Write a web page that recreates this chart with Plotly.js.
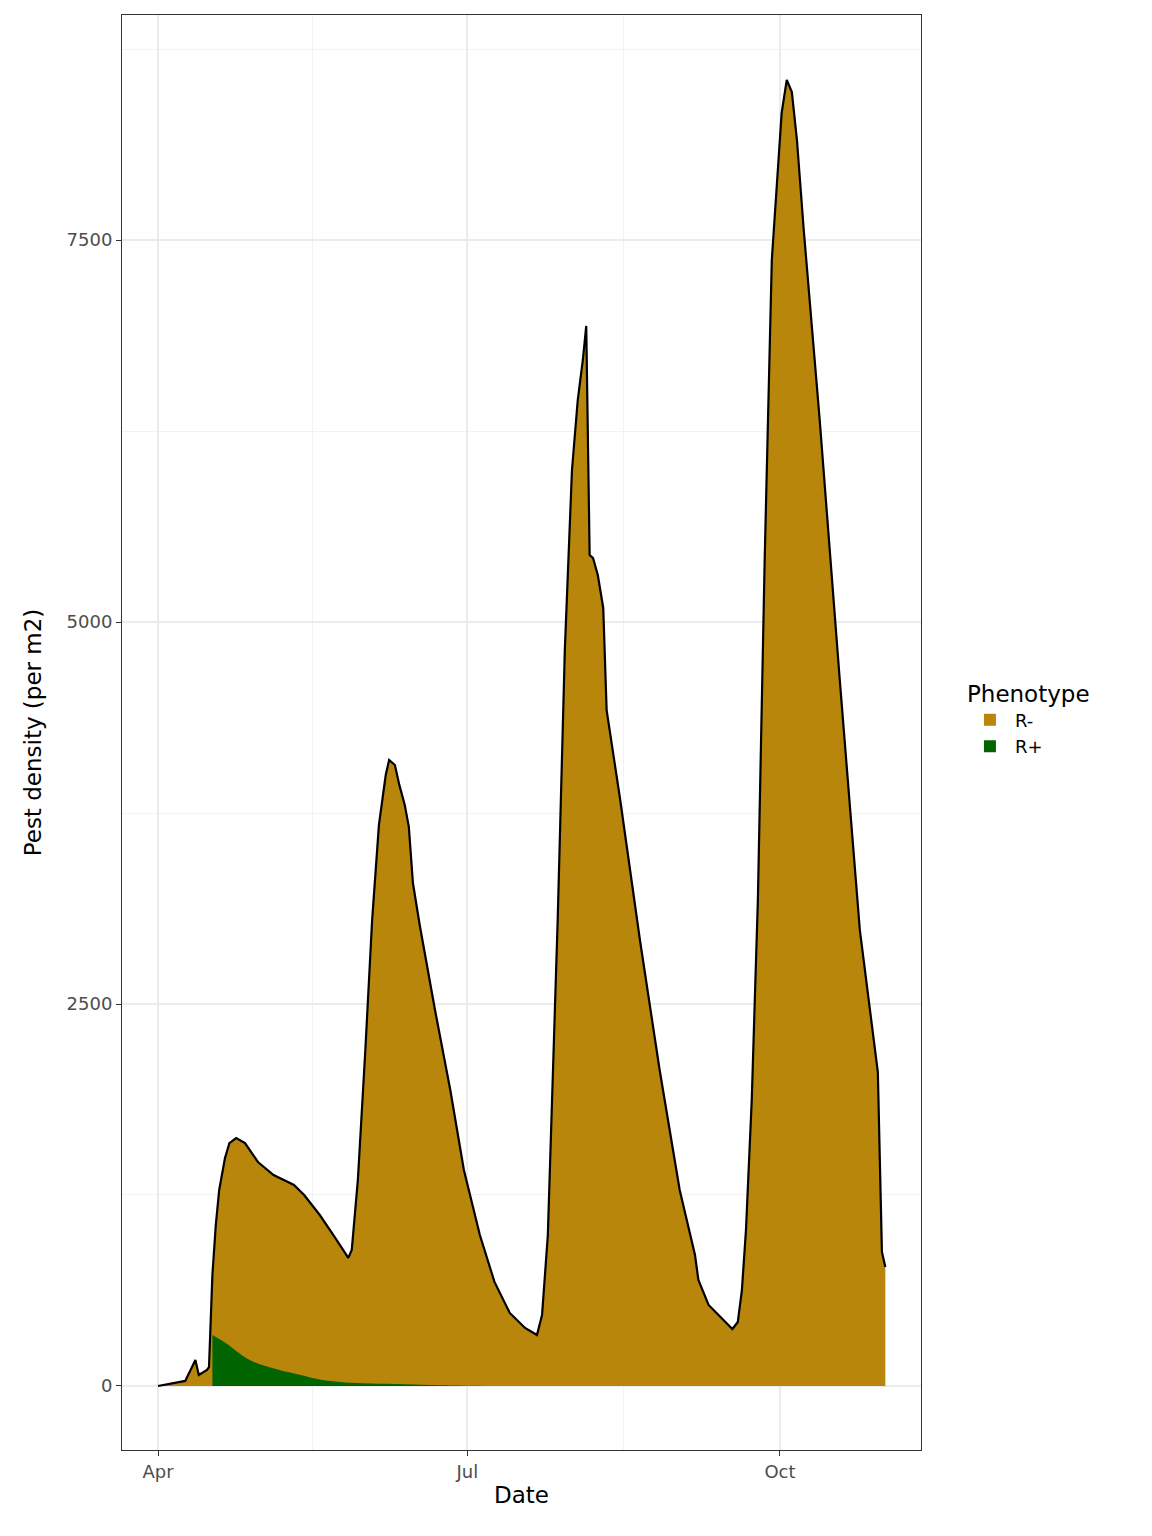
<!DOCTYPE html>
<html><head><meta charset="utf-8">
<script src="https://cdn.plot.ly/plotly-3.0.1.min.js"></script>
<style>body{margin:0}#c{width:1152px;height:1536px}</style></head>
<body><div id="c"></div>
<script>
const totalDays=[0,8,11,12,14.4,15,16,17,18,19.7,21,23,25.6,29.4,34,40,43,47.6,52,56,57,58.8,61,63,65,67,68,69.7,71,72.6,73.8,75,77,81.5,86,90,94.7,99,103.5,108,111.5,113,114.7,116,117.6,119.7,121.8,123.5,125,126,126.5,127,128,129.4,131,132,136,141.8,147.6,153.5,158,159,162,166.8,169,170.6,171.8,173,174.7,176.5,178.5,180.6,182.4,183.5,185,186.5,188,190,194.7,200.6,206.5,211.8,213,214];
const totalDensity=[0,33,170,72,105,124,727,1054,1283,1492,1590,1623,1590,1466,1381,1316,1250,1119,975,838,890,1348,2199,3050,3672,3999,4097,4064,3934,3803,3659,3292,3017,2461,1937,1414,988,681,478,380,334,465,988,1872,3050,4817,5995,6453,6715,6938,6192,5439,5419,5308,5092,4424,3835,2919,2068,1283,857,694,530,419,373,419,628,1021,1872,3181,5406,7369,7991,8332,8548,8469,8155,7566,6322,4621,2985,2055,877,779];
const rPlusDays=[16,20,27,35,42,48,53.5,60,70,80,90,110,150,214];
const rPlusDensity=[334,280,170,110,72,40,26,18,13,6,2,0,0,0];
const tickDays=[0,91,183], tickLabels=['Apr','Jul','Oct'];
const base=Date.UTC(2023,3,1);
const toDate=d=>new Date(base+d*86400000).toISOString().slice(0,19).replace('T',' ');
const X=totalDays.map(toDate), XP=rPlusDays.map(toDate);
const data=[
 {x:X,y:totalDensity,type:'scatter',mode:'lines',fill:'tozeroy',fillcolor:'#B8860B',line:{width:0,color:'#B8860B'},showlegend:false,hoverinfo:'skip'},
 {x:XP,y:rPlusDensity,type:'scatter',mode:'lines',fill:'tozeroy',fillcolor:'#006400',line:{width:0,color:'#006400',shape:'spline'},showlegend:false},
 {x:X,y:totalDensity,type:'scatter',mode:'lines',line:{color:'black',width:2.2},showlegend:false},
 {x:[null],y:[null],type:'bar',name:'R-',marker:{color:'#B8860B'}},
 {x:[null],y:[null],type:'bar',name:'R+',marker:{color:'#006400'}}
];
const layout={width:1152,height:1536,margin:{l:122,r:231,t:15,b:86},
 paper_bgcolor:'white',plot_bgcolor:'white',
 font:{family:'DejaVu Sans',color:'black'},
 xaxis:{type:'date',range:[toDate(-10.6),toDate(224.5)],tickvals:tickDays.map(toDate),ticktext:tickLabels,
  ticks:'outside',ticklen:5,tickcolor:'#333',tickfont:{size:18,color:'#4D4D4D'},
  gridcolor:'#EBEBEB',gridwidth:2,showline:true,linecolor:'#333',mirror:true,zeroline:false,
  minor:{tickvals:[45.5,137].map(toDate),showgrid:true,gridcolor:'#F2F2F2',gridwidth:1,ticks:''},
  title:{text:'Date',font:{size:23},standoff:6}},
 yaxis:{range:[-419,8973],tickvals:[0,2500,5000,7500],ticks:'outside',ticklen:5,tickcolor:'#333',
  tickfont:{size:18,color:'#4D4D4D'},gridcolor:'#EBEBEB',gridwidth:2,showline:true,linecolor:'#333',mirror:true,zeroline:false,
  minor:{tickvals:[1250,3750,6250,8750],showgrid:true,gridcolor:'#F2F2F2',gridwidth:1,ticks:''},
  title:{text:'Pest density (per m2)',font:{size:23},standoff:18}},
 legend:{x:1.055,y:0.51,xanchor:'left',yanchor:'middle',title:{text:'Phenotype',font:{size:23}},
  font:{size:18},traceorder:'normal',itemwidth:40},
 showlegend:true
};
Plotly.newPlot('c',data,layout,{displayModeBar:false});
</script></body></html>
